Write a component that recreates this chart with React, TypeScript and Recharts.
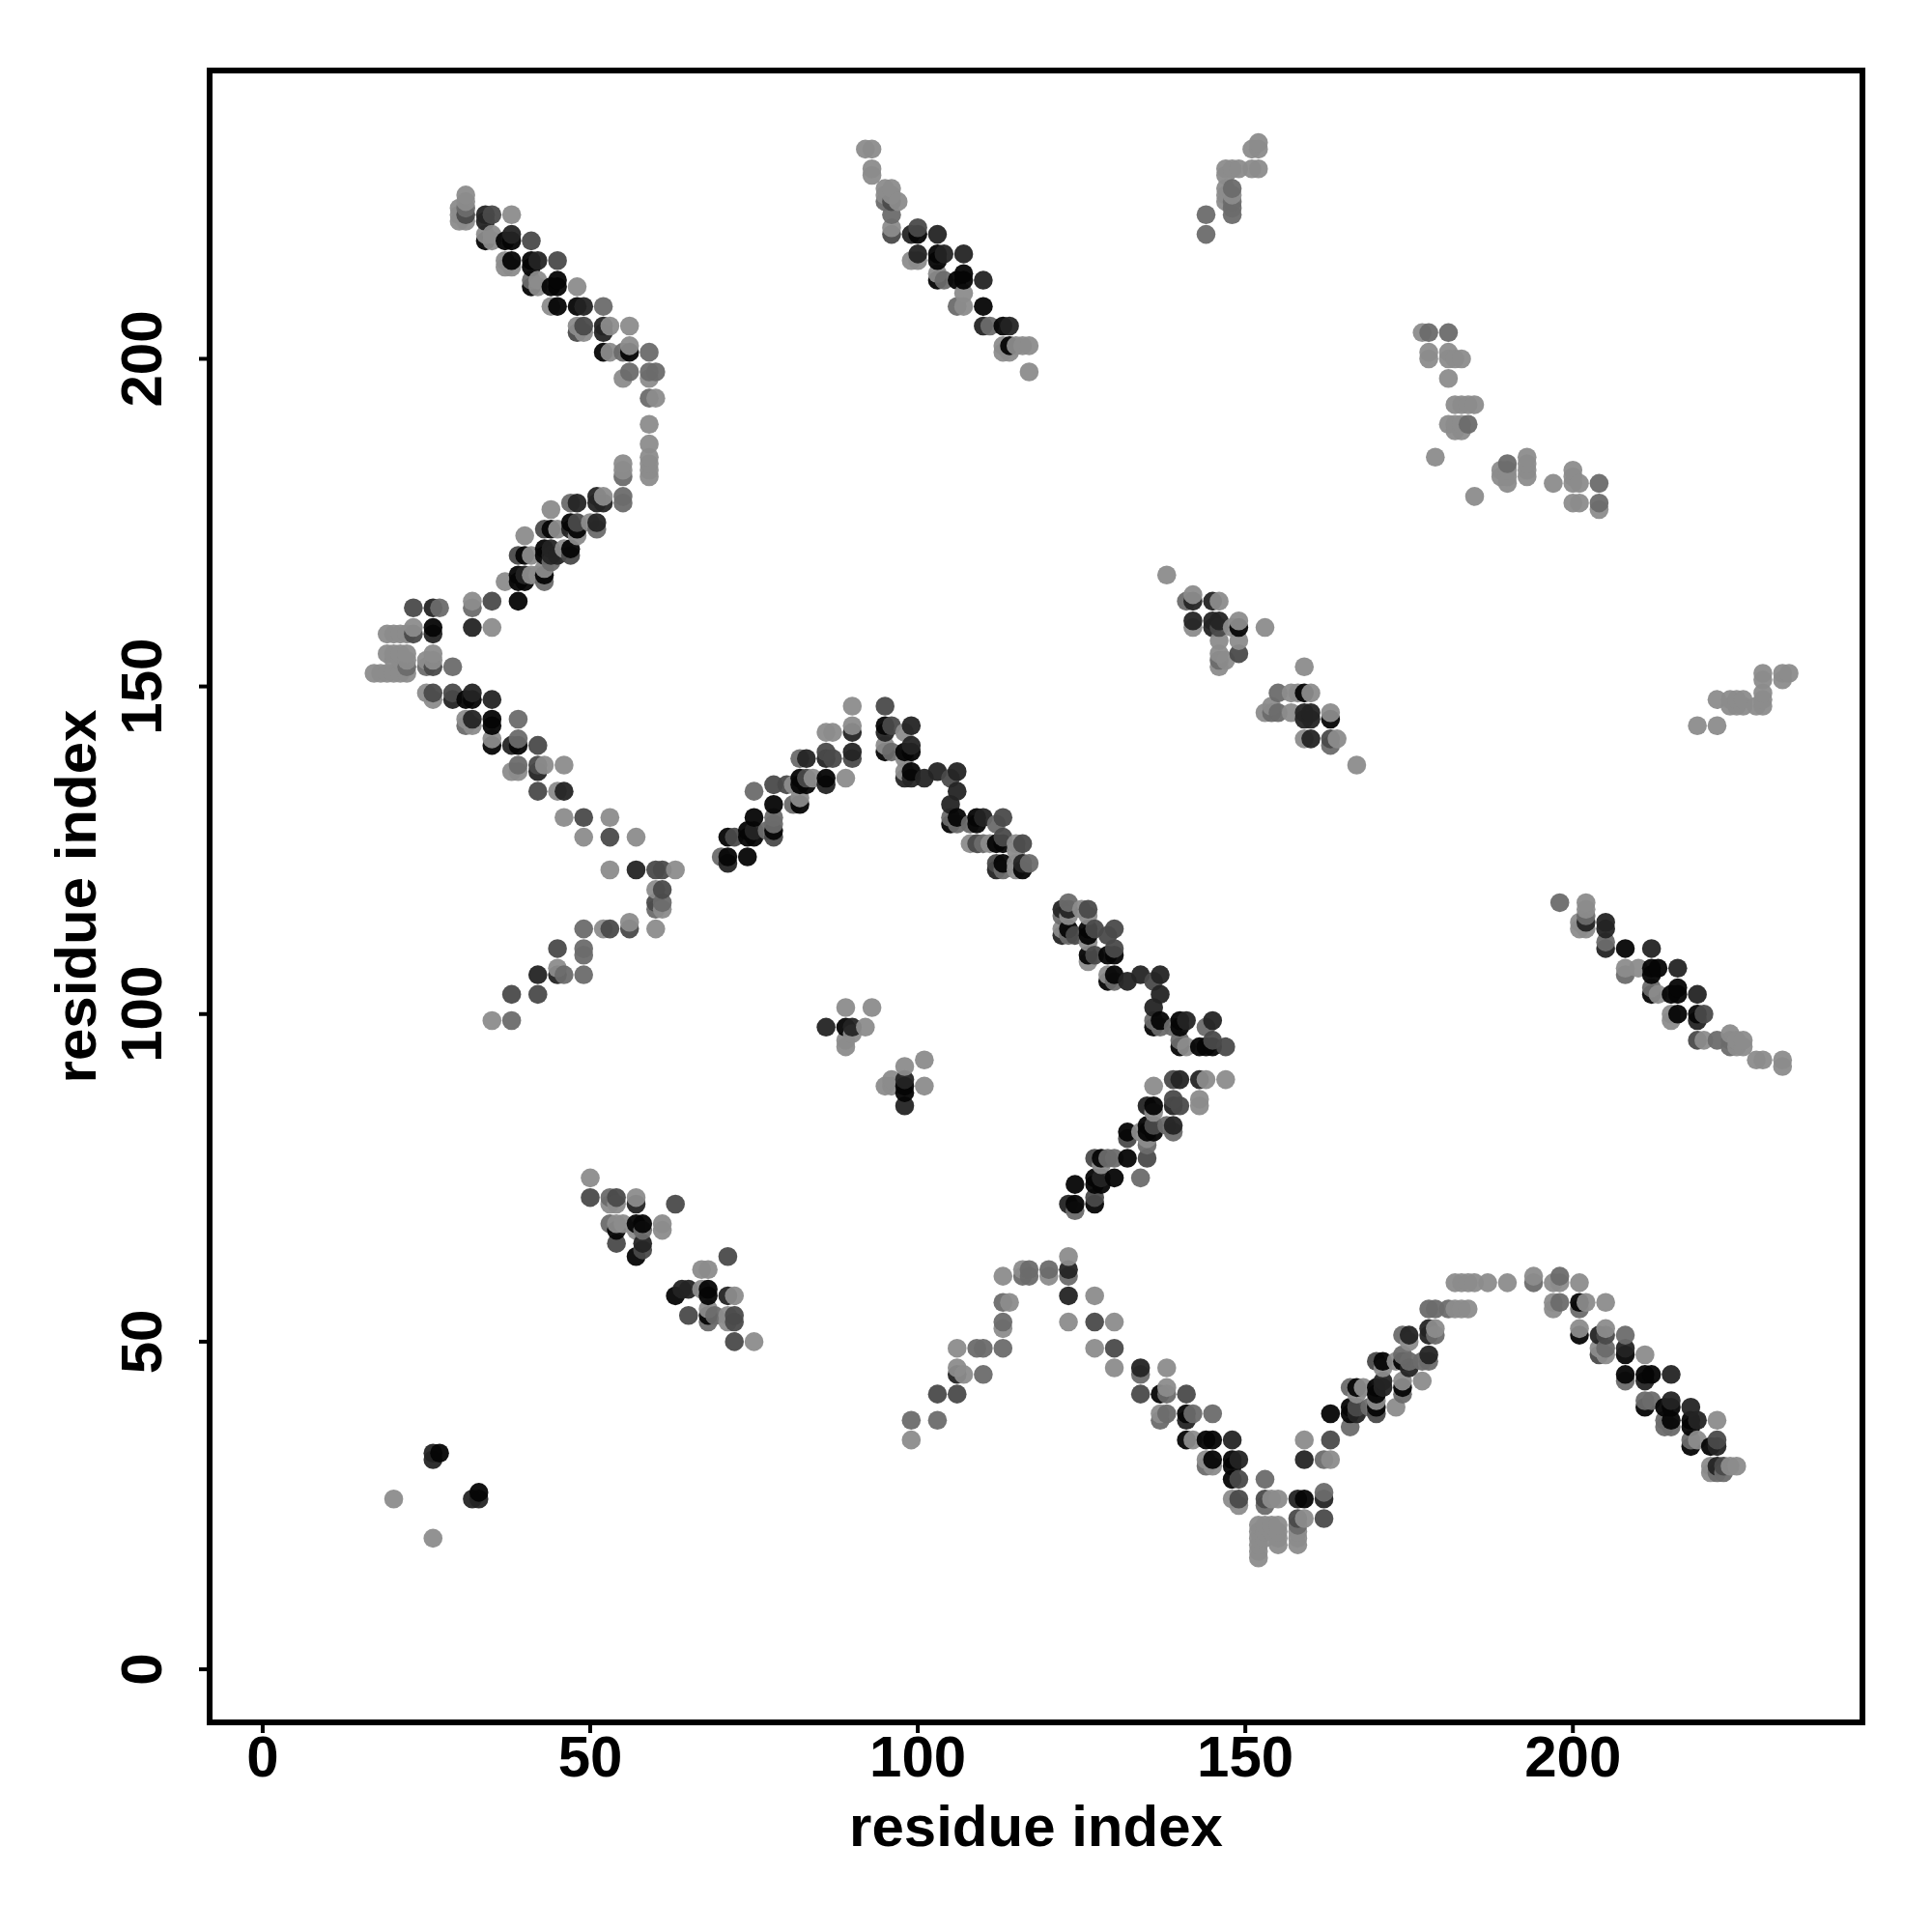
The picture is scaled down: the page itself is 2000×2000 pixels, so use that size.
import { ReferenceArea, Scatter, ScatterChart, XAxis, YAxis } from "recharts";

// contact strength levels, 0 = weakest (light grey), 4 = strongest (near black)
const L = 0;
const M = 1;
const D = 2;
const K = 3;
const B = 4;

type Contact = [number, number, number];

const TICKS = [0, 50, 100, 150, 200];
const AXIS_TITLE = "residue index";

const upperLeftArm: Contact[] = [
  [30,223,L],[30,222,L],[30,221,L],[31,225,L],[31,224,L],[31,223,M],[31,222,D],[31,221,L],
  [34,222,K],[34,221,K],[35,222,D],[38,222,L],
  [34,219,L],[34,218,B],[35,219,L],[35,218,L],[37,218,B],[38,219,K],[38,218,B],[41,218,D],
  [37,215,L],[37,214,L],[38,215,B],[38,214,L],[41,215,B],[41,214,B],[42,215,K],[45,215,D],
  [41,212,M],[41,211,B],[42,212,L],[42,211,L],[44,211,B],[45,212,B],[45,211,B],[48,211,L],
  [44,208,L],[45,208,B],[48,208,B],[49,208,K],[52,208,M],
  [48,205,L],[48,204,D],[49,205,D],[49,204,L],[52,205,K],[52,204,K],[53,205,L],[56,205,L],
  [52,201,B],[53,201,L],[55,201,M],[56,201,B],[56,202,L],[59,201,M],
  [55,197,L],[56,198,M],[59,198,M],[59,197,L],[60,198,M],
  [59,194,M],[60,194,L],[59,190,L],[59,187,L],[59,185,L],[59,184,L],[59,183,L],[59,182,L],
  [55,184,L],[55,183,L],[55,182,M],[55,179,M],[55,178,M],
  [52,179,L],[52,178,K],[51,179,K],[51,178,K],[48,178,K],[47,178,M],[44,177,L],
];

const middleLeftArm: Contact[] = [
  [43,174,D],[44,174,B],[45,174,L],[47,175,B],[47,174,K],[48,175,D],[48,174,B],[48,173,L],
  [50,175,L],[51,175,K],[51,174,M],[40,173,L],
  [39,170,D],[40,170,B],[41,170,L],[43,171,B],[43,170,B],[44,171,K],[44,170,K],[44,169,M],
  [45,170,K],[46,171,L],[47,171,B],[47,170,D],
  [37,166,L],[39,167,B],[39,166,B],[40,167,K],[40,166,B],[41,167,L],[42,167,L],
  [43,168,L],[43,167,B],[43,166,M],
  [32,163,L],[32,162,M],[35,163,D],[39,163,B],[23,162,D],[26,162,K],[27,162,M],
  [23,159,L],[23,158,D],[22,158,L],[26,159,B],[26,158,K],[32,159,K],[35,159,L],
  [19,158,L],[20,158,L],[21,158,L],
  [19,155,L],[20,155,L],[21,155,L],[22,155,L],[20,154,L],[21,154,L],[22,154,L],[22,153,M],
  [17,152,L],[18,152,L],[19,152,L],[20,152,L],[21,152,L],[22,152,L],
  [25,154,L],[25,153,M],[26,155,L],[26,154,L],[26,153,D],[29,153,M],
  [25,149,L],[26,149,D],[26,148,L],[29,149,D],[29,148,K],[31,148,B],[32,149,K],[32,148,B],[35,148,K],
  [31,145,L],[31,144,M],[32,145,K],[32,144,L],[35,145,B],[35,144,B],[39,145,M],
  [35,142,L],[35,141,B],[38,141,K],[39,142,M],[39,141,B],[42,141,D],
  [38,137,L],[39,138,M],[39,137,L],[42,138,D],[42,137,K],[43,138,L],[46,138,L],
  [42,134,D],[45,134,L],[46,134,K],[46,130,L],[49,130,D],[53,130,L],
  [49,127,L],[53,127,D],[57,127,L],
  [53,122,L],[57,122,K],[60,122,D],[61,122,D],[63,122,L],
];

const lowerLeftArm: Contact[] = [
  [35,99,L],[38,99,M],[38,103,D],[42,103,D],[42,106,K],[45,107,L],[45,106,K],[46,106,M],[49,106,M],
  [45,110,D],[49,110,M],[49,109,M],[49,113,M],[52,113,L],[53,113,D],[56,113,D],[56,114,L],[60,113,L],
  [60,119,L],[61,119,D],[60,117,D],[61,117,M],[60,116,M],[61,116,L],
];

const centralPeak: Contact[] = [
  [90,147,L],[95,147,D],[90,144,L],[90,143,K],[90,140,K],[90,139,D],[89,136,L],
  [86,143,L],[87,143,L],[86,140,D],[86,139,K],[87,139,D],[82,139,M],[83,139,K],
  [82,136,B],[82,135,B],[83,136,D],[83,135,B],[84,136,L],[86,136,B],[86,135,K],
  [78,135,D],[80,135,D],[81,135,L],[75,134,M],
  [78,132,B],[81,132,M],[82,132,B],[82,133,L],[75,130,B],
  [78,130,M],[78,129,M],[78,128,B],[78,127,D],[77,128,M],
  [74,128,B],[74,127,B],[75,128,K],[75,127,B],[71,127,B],[72,127,D],
  [70,124,M],[71,124,B],[71,123,K],[74,124,B],
  [95,144,B],[95,143,K],[96,144,D],[98,143,L],[99,144,K],
  [95,141,L],[95,140,B],[96,140,M],[98,140,B],[99,141,K],[99,140,B],[98,139,L],
  [98,137,L],[98,136,K],[99,137,B],[99,136,K],[101,136,K],[103,137,K],[105,136,D],[106,137,K],
  [106,134,K],[105,132,K],[105,130,M],[105,129,B],[106,130,B],[106,129,M],
  [108,129,M],[109,130,B],[109,129,B],[110,130,K],[112,129,M],[113,130,D],
  [108,126,L],[109,126,D],[110,126,M],[111,126,L],[112,126,B],[113,127,D],[113,126,B],
  [115,126,L],[115,125,L],[116,126,D],
  [112,123,D],[112,122,K],[113,123,B],[113,122,M],[115,123,L],[115,122,L],[116,123,K],[116,122,B],[117,123,M],
];

const centralRightArm: Contact[] = [
  [123,117,M],[122,116,K],[123,116,K],[122,115,M],[123,115,L],[125,116,L],[126,116,D],[126,115,L],
  [122,113,L],[122,112,K],[123,113,B],[123,112,M],[124,112,D],[126,113,B],[126,112,B],[127,113,D],
  [126,111,L],[129,112,D],[130,113,D],
  [126,109,B],[126,108,L],[127,109,D],[129,109,B],[130,110,D],[130,109,B],
  [129,106,L],[129,105,B],[130,106,B],[130,105,M],[132,105,K],[134,106,K],[136,105,D],[137,106,K],
  [137,103,K],[136,101,K],[136,99,M],[136,98,B],[137,99,B],[137,98,M],[139,98,M],
  [140,99,B],[140,98,B],[141,99,K],[144,98,M],[145,99,K],
  [140,96,M],[140,95,B],[141,95,L],[143,95,B],[144,95,B],[145,96,D],[145,95,B],[147,95,D],
  [136,89,L],[139,90,D],[140,90,K],[143,90,K],[144,90,L],[147,90,L],
  [139,87,D],[139,86,K],[140,86,D],[143,87,L],[143,86,L],[135,86,K],[136,86,B],[136,85,L],
  [132,82,B],[132,81,D],[135,83,B],[135,82,B],[136,83,D],[136,82,B],[134,82,L],[139,83,K],[139,82,M],[138,83,M],
  [135,81,L],[135,80,M],[135,78,D],
  [127,78,D],[128,78,B],[129,78,M],[130,78,M],[132,78,B],[128,77,L],
  [124,74,B],[127,75,B],[128,75,K],[128,74,B],[127,74,B],[130,75,B],[134,75,M],
  [127,72,D],[127,71,B],[123,71,K],[124,71,B],[124,70,M],
];

const upperMiddleArm: Contact[] = [
  [92,232,L],[93,232,L],[93,229,L],[93,228,L],
  [95,226,L],[96,226,L],[95,225,L],[96,225,L],[95,224,M],[96,224,D],[97,224,L],
  [96,222,M],[96,220,L],[96,219,D],
  [99,219,K],[100,219,B],[100,220,D],[103,219,K],
  [99,215,L],[100,216,K],[100,215,L],[103,216,B],[103,215,B],[104,216,K],[107,216,K],
  [103,213,L],[103,212,B],[104,212,M],[106,212,B],[107,213,B],[107,212,B],[110,212,K],
  [107,210,L],[106,208,M],[107,208,L],[110,208,B],
  [110,205,K],[111,205,M],[113,205,B],[114,205,K],
  [113,202,L],[113,201,L],[114,202,B],[114,201,L],[115,202,L],[116,202,L],[117,202,L],[117,198,L],
];

const upperRightFragments: Contact[] = [
  [144,222,M],[144,219,M],[148,222,M],
  [147,229,L],[147,228,L],[147,226,L],[147,225,L],[147,224,L],
  [148,229,L],[148,226,M],[148,225,L],[148,224,M],[148,223,M],[149,229,L],
  [151,229,L],[152,229,L],[151,232,L],[152,233,L],[152,232,L],
  [177,204,L],[178,204,M],[181,204,M],[178,201,L],[178,200,L],[181,201,L],[181,200,L],[182,200,L],[183,200,L],[181,197,L],
  [182,193,L],[183,193,L],[184,193,L],[185,193,L],
  [181,190,L],[182,190,L],[182,189,L],[183,190,L],[183,189,L],[184,190,M],[179,185,L],[185,179,L],
  [189,183,L],[189,182,L],[190,184,M],[190,183,L],[190,182,L],[190,181,L],
  [193,185,L],[193,184,L],[193,183,L],[193,182,L],
  [197,181,L],[200,183,L],[200,182,L],[200,181,L],[201,181,L],[200,178,L],[201,178,L],
  [204,181,M],[204,178,M],[204,177,L],
];

const rightMiddleFragments: Contact[] = [
  [138,167,L],[141,163,M],[142,164,L],[142,163,K],[145,163,K],[146,163,L],
  [142,160,K],[142,159,L],[145,160,K],[145,159,K],[146,160,K],[146,159,D],[148,159,L],[149,160,L],[149,159,B],[153,159,L],
  [146,157,L],[146,155,L],[146,154,M],[146,153,L],[149,157,L],[149,155,D],[147,154,L],[159,153,L],
  [155,149,M],[157,149,L],[158,149,L],[159,149,B],[160,149,L],
  [153,146,L],[154,147,L],[154,146,M],[155,146,M],[157,146,L],[159,146,K],[159,145,K],[160,146,K],[160,145,K],
  [163,146,L],[163,145,B],[159,142,L],[160,142,K],[163,142,D],[164,142,L],[163,141,M],[167,138,L],
  [219,144,L],[222,144,L],[222,148,L],[224,148,L],[225,148,L],[226,148,L],[224,147,L],[225,147,L],[226,147,L],
  [228,147,L],[229,149,L],[229,148,L],[229,147,L],[229,152,L],[229,151,L],[232,152,L],[232,151,L],[233,152,L],
];

const lowerRightArm: Contact[] = [
  [198,117,M],[202,117,L],[202,116,L],[202,115,M],[202,114,K],[202,113,L],[201,114,L],[201,113,L],
  [205,114,K],[205,113,K],[205,111,M],[205,110,K],[208,110,B],[212,110,K],
  [208,107,L],[208,106,M],[210,107,L],[212,107,B],[212,106,B],[213,107,B],[216,107,K],
  [212,104,M],[212,103,B],[213,103,L],[215,103,B],[216,104,B],[216,103,B],[219,103,K],
  [215,100,L],[215,99,L],[216,100,B],[219,100,B],[219,99,K],[220,100,D],
  [219,96,D],[220,96,L],[222,96,M],[224,97,L],[224,96,M],[224,95,M],[225,96,L],[225,95,L],[226,96,L],[226,95,L],
  [228,93,L],[229,93,L],[232,93,L],[232,92,L],
];

const smallClusters: Contact[] = [
  [86,98,K],[89,98,B],[90,98,K],[89,101,L],[93,101,L],[92,98,L],[90,97,L],[89,96,L],[89,95,L],
  [95,89,L],[96,90,L],[96,89,L],[98,92,L],[98,90,K],[98,89,B],[98,88,B],[98,86,K],[101,93,L],[101,89,L],
  [26,33,K],[27,33,B],[26,32,K],[33,27,B],[33,26,K],[32,26,K],[20,26,L],[26,20,L],
  [50,75,L],[50,72,D],[53,72,M],[54,72,D],[53,71,L],[54,71,L],[57,72,L],[57,71,K],[63,71,D],
  [53,68,M],[54,67,B],[54,68,L],[55,68,L],[57,68,B],[57,67,L],[58,68,B],[58,67,M],[61,68,L],[61,67,L],
  [54,65,D],[58,65,K],[58,64,D],[57,63,B],[71,63,D],[67,61,L],[68,61,L],
  [63,57,B],[64,58,K],[65,58,K],[67,58,L],[68,58,B],[68,57,B],[71,57,K],[72,57,L],
  [65,54,D],[68,55,L],[68,54,B],[68,53,M],[69,54,M],[71,54,L],[71,53,L],[72,54,D],[72,53,D],[72,50,D],[75,50,L],
];

const lowerMiddleArm: Contact[] = [
  [99,38,M],[99,35,L],[103,38,M],[103,42,D],[106,42,D],[106,46,L],[106,45,K],[107,45,L],[110,45,M],
  [106,49,L],[109,49,M],[110,49,M],[113,49,M],[113,53,M],[113,52,L],[113,56,M],[114,56,L],[113,60,L],
  [116,61,L],[116,60,M],[117,61,M],[117,60,M],[120,61,M],[120,60,L],
  [123,63,L],[123,61,K],[123,60,M],[123,57,K],[123,53,L],
  [127,57,L],[127,53,D],[127,49,L],[130,53,L],[130,49,D],[130,46,L],
  [134,46,K],[134,45,M],[134,42,D],[138,46,L],[138,43,L],[138,42,M],[137,42,B],[141,42,D],
  [137,39,L],[137,38,M],[138,39,M],[141,39,B],[141,38,K],[142,39,M],[145,39,M],
  [141,35,B],[142,35,L],[144,35,B],[145,35,B],[148,35,K],
  [144,32,L],[144,31,M],[145,32,B],[145,31,L],[148,32,B],[148,31,B],[149,32,K],
  [148,29,B],[149,29,D],[153,29,M],
  [148,26,L],[149,26,D],[149,25,L],[153,26,D],[153,25,M],[154,26,L],[155,26,L],
  [158,26,K],[159,26,B],[162,27,M],[162,26,K],
  [158,23,D],[158,22,M],[158,21,L],[158,20,L],[158,19,L],[159,23,L],[162,23,D],
  [152,22,L],[152,21,L],[152,20,L],[152,19,L],[152,18,L],[152,17,L],
  [153,22,L],[153,21,L],[153,20,L],[154,22,L],[154,21,L],[155,22,L],[155,21,L],[155,20,L],[155,19,L],
];

const lowerRightPeak: Contact[] = [
  [159,35,L],[163,35,D],[159,32,K],[162,32,M],[163,32,L],[163,39,B],
  [166,39,B],[166,40,B],[166,37,M],[167,40,D],[167,39,K],[169,40,M],[170,41,L],[170,40,B],[170,39,D],[173,40,L],
  [166,43,M],[167,43,B],[167,42,L],[168,43,L],[170,43,B],[170,42,B],[171,44,K],[171,43,K],[174,44,L],[174,43,B],[174,42,M],[177,44,L],
  [170,47,D],[171,47,B],[171,46,L],[173,47,L],[174,48,M],[174,47,B],[175,47,M],[175,46,K],[177,47,M],[178,48,K],[178,47,M],
  [174,51,M],[175,51,K],[175,50,L],[178,52,K],[178,51,K],[179,52,L],[179,51,M],
  [178,55,M],[179,55,M],[181,55,M],[182,55,L],[183,55,L],[184,55,L],
  [182,59,L],[183,59,L],[184,59,L],[185,59,L],[187,59,L],[190,59,L],[194,60,L],[194,59,M],[197,59,L],[198,60,M],[198,59,L],[201,59,L],
  [197,56,L],[197,55,L],[198,56,M],[201,56,B],[201,55,M],[202,56,L],[205,56,L],
  [201,52,L],[201,51,B],[204,51,K],[205,52,L],[205,51,D],[208,51,M],
  [204,49,L],[204,48,D],[205,49,M],[205,48,L],[208,49,K],[208,48,B],[211,48,L],
  [208,45,B],[208,44,M],[211,45,B],[211,44,K],[212,45,B],[215,45,K],
  [211,41,M],[211,40,B],[212,41,M],[214,40,B],[215,41,K],[215,40,B],[218,40,K],
  [214,38,M],[214,37,M],[215,38,B],[215,37,M],[218,38,B],[218,37,B],[219,38,K],[222,38,L],
  [218,35,M],[218,34,B],[219,35,L],[221,34,B],[222,35,D],[222,34,K],
  [221,31,L],[221,30,L],[222,31,K],[222,30,M],[223,31,D],[223,30,M],[224,31,L],[225,31,L],
];

const SHADES = ["#8c8c8c", "#6c6c6c", "#4a4a4a", "#242424", "#050505"];

const contacts = [
  ...upperLeftArm,
  ...middleLeftArm,
  ...lowerLeftArm,
  ...centralPeak,
  ...centralRightArm,
  ...upperMiddleArm,
  ...upperRightFragments,
  ...rightMiddleFragments,
  ...lowerRightArm,
  ...smallClusters,
  ...lowerMiddleArm,
  ...lowerRightPeak,
]
  .map(([x, y, level]) => ({ x, y, fill: SHADES[level] }))
  // plotted residue by residue, so later residues sit on top
  .sort((a, b) => a.x - b.x || a.y - b.y);

const FONT = "'Liberation Sans', Arial, sans-serif";
const XDOMAIN: [number, number] = [-8.1, 244.2];
const YDOMAIN: [number, number] = [-8.1, 244];

const textStyle = { fontFamily: FONT, fontWeight: "bold", fontSize: 60, fill: "#000" };

function XTick({ x, y, payload }: any) {
  return (
    <text x={x} y={y + 43} textAnchor="middle" {...textStyle}>
      {payload.value}
    </text>
  );
}

function YTick({ x, y, payload }: any) {
  return (
    <text transform={`rotate(-90 ${x - 37} ${y})`} x={x - 37} y={y} textAnchor="middle" {...textStyle}>
      {payload.value}
    </text>
  );
}

function YTitle({ viewBox }: any) {
  const cy = viewBox.y + viewBox.height / 2;
  return (
    <text transform={`rotate(-90 99 ${cy})`} x={99} y={cy} textAnchor="middle" {...textStyle}>
      {AXIS_TITLE}
    </text>
  );
}

function Dot({ cx, cy, payload }: any) {
  return <circle cx={cx} cy={cy} r={9.8} fill={payload.fill} fillOpacity={0.95} />;
}

export default function App() {
  return (
    <div style={{ position: "absolute", left: 0, top: 0, width: 2000, height: 2000, background: "#fff" }}>
      <ScatterChart width={2000} height={2000} margin={{ top: 73, right: 72, bottom: 0, left: 0 }}>
        <XAxis
          type="number"
          dataKey="x"
          domain={XDOMAIN}
          ticks={TICKS}
          height={217}
          tick={<XTick />}
          tickSize={11}
          tickLine={{ stroke: "#000", strokeWidth: 4 }}
          axisLine={false}
          label={{ value: AXIS_TITLE, position: "insideBottom", offset: 89, ...textStyle }}
        />
        <YAxis
          type="number"
          dataKey="y"
          domain={YDOMAIN}
          ticks={TICKS}
          width={217}
          tick={<YTick />}
          tickSize={11}
          tickLine={{ stroke: "#000", strokeWidth: 4 }}
          axisLine={false}
          label={<YTitle />}
        />
        <ReferenceArea x1={XDOMAIN[0]} x2={XDOMAIN[1]} y1={YDOMAIN[0]} y2={YDOMAIN[1]} fill="none" stroke="#000" strokeWidth={6} />
        <Scatter data={contacts} shape={<Dot />} isAnimationActive={false} />
      </ScatterChart>
    </div>
  );
}
